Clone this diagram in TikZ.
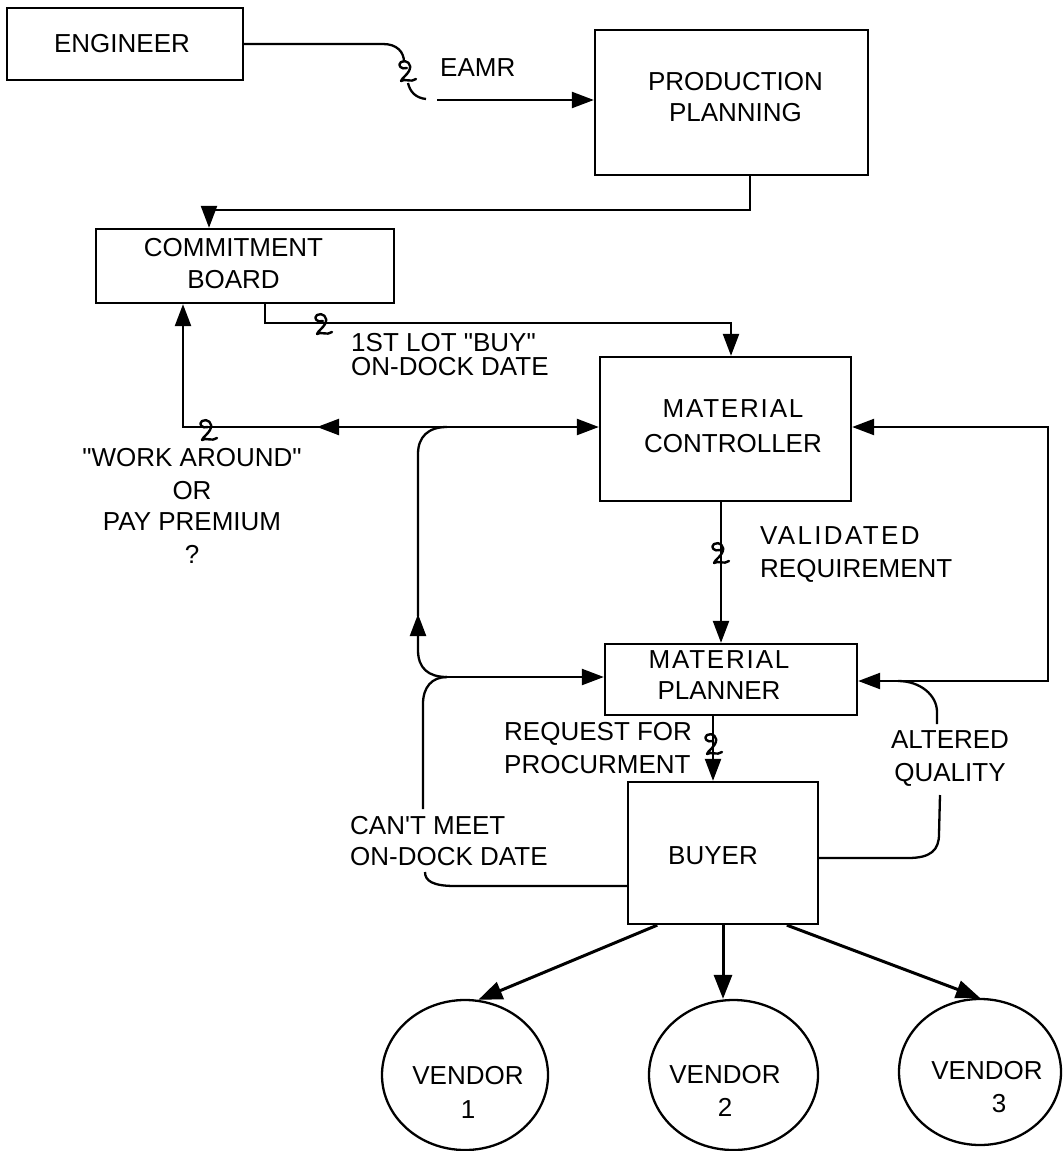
\documentclass[tikz,border=0pt]{standalone}
\usepackage{fontspec}
\setmainfont{Liberation Sans}
\usetikzlibrary{arrows.meta,calc,shapes.geometric}
\begin{document}
\begin{tikzpicture}[x=1pt,y=-1pt,
  every node/.style={font=\fontsize{26}{32}\selectfont},
  box/.style={draw,line width=2.3pt,rectangle,inner sep=0pt},
  vend/.style={draw,line width=2.3pt,ellipse,inner sep=0pt},
  txt/.style={inner sep=0pt,align=center},
  txtl/.style={inner sep=0pt,align=left,anchor=west},
  flow/.style={line width=2.3pt},
  arr/.style={flow,-{Triangle[length=22pt,width=16pt]}},
  varr/.style={line width=3pt,-{Triangle[length=24pt,width=18pt]}},
  curl/.pic={\draw[line width=2.4pt,line cap=round,line join=round]
      (0,-4) .. controls (-6,-2) and (-10,-7) .. (-6,-10)
      .. controls (-1,-13) and (6,-8) .. (2,-1)
      .. controls (0,3) and (-5,6) .. (-6,9)
      .. controls (-2,6) and (4,11) .. (9,7);}
]
\useasboundingbox (0,0) rectangle (1063,1151);

% boxes
\node[box,minimum width=236pt,minimum height=72pt] (eng) at (125,44) {};
\node[box,minimum width=273pt,minimum height=145pt] (pp) at (731.5,102.5) {};
\node[box,minimum width=298pt,minimum height=74pt] (cb) at (245,266) {};
\node[box,minimum width=251pt,minimum height=144pt] (mc) at (725.5,429) {};
\node[box,minimum width=252pt,minimum height=71pt] (mp) at (731,679.5) {};
\node[box,minimum width=190pt,minimum height=142pt] (buyer) at (723,853) {};
\node[vend,minimum width=166pt,minimum height=150pt] (v1) at (465,1075) {};
\node[vend,minimum width=169pt,minimum height=150pt] (v2) at (733.5,1075) {};
\node[vend,minimum width=162pt,minimum height=146pt] (v3) at (980,1072) {};

% box texts
\node[txt] (engT) at (122,44) {ENGINEER};
\node[txt] (ppT) at (735.5,97.5) {PRODUCTION\\[-1pt]PLANNING};
\node[txt] (cbT) at (233.5,264) {COMMITMENT\\BOARD};
\node[txt] (mcT) at (733,426.5) {{\addfontfeature{LetterSpace=7}MATERIAL}\\[3pt]CONTROLLER};
\node[txt] (mpT) at (719,675.5) {{\addfontfeature{LetterSpace=7}MATERIAL}\\[-1pt]PLANNER};
\node[txt] (buyT) at (713,856) {BUYER};
\node[txt] (v1T) at (468,1092) {VENDOR\\[2pt]1};
\node[txt] (v2T) at (725,1090.5) {VENDOR\\[1pt]2};
\node[txt] (v3T) at (987,1087.5) {VENDOR\\[1pt]\hspace*{24pt}3};

% flow labels
\node[txtl] (eamrT) at (440,68) {EAMR};
\node[txtl] (lotT) at (351,355) {1ST LOT \textquotedbl BUY\textquotedbl\\[-8pt]ON-DOCK DATE};
\node[txt] (waT) at (192,505.5) {\textquotedbl WORK AROUND\textquotedbl\\[1pt]OR\\[-1pt]PAY PREMIUM\\[1pt]?};
\node[txtl] (valT) at (760,554.5) {{\addfontfeature{LetterSpace=9}VALIDATED}\\[1pt]REQUIREMENT};
\node[txtl] (reqT) at (504,748.5) {REQUEST FOR\\[1pt]PROCURMENT};
\node[txt] (altT) at (950,758.5) {ALTERED\\[1pt]QUALITY};
\node[txtl] (cantT) at (350,841.5) {CAN\textquotesingle T MEET\\[-1pt]ON-DOCK DATE};

% engineer -> production planning
\draw[flow] (eng.east) -- (383,44) .. controls (397,44) and (404,52) .. (404,62);
\pic at (407,72) {curl};
\draw[flow] (408,83) .. controls (410,92) and (416,98) .. (426,99);
\draw[arr] (437,100) -- (pp.west |- 0,100);

% production planning -> commitment board
\draw[arr] (pp.south -| 750,0) |- (209,210) -- (cb.north -| 209,0);

% commitment board -> material controller
\draw[arr] (cb.south -| 265,0) |- (731,323) -- (mc.north -| 731,0);
\pic at (323,325) {curl};

% material controller -> material planner
\draw[arr] (mc.south -| 721,0) -- (mp.north -| 721,0);
\pic at (720,554) {curl};

% material planner -> buyer
\draw[arr] (mp.south -| 713,0) -- (buyer.north -| 713,0);
\pic at (713,745) {curl};

% can't meet on-dock date: buyer back up the left side
\draw[flow] (buyer.west |- 0,886) -- (455,886) .. controls (433,886) and (425,881) .. (425,872);
\draw[flow] (423,809) -- (423,704) .. controls (423,687) and (432,677) .. (447,677);
\draw[arr] (447,677) -- (mp.west |- 0,677);
\draw[arr] (447,677) .. controls (428,677) and (418,668) .. (418,650) -- (418,614);
\draw[flow] (418,616) -- (418,454) .. controls (418,437) and (428,427) .. (447,427);
\draw[arr] (447,427) -- (mc.west |- 0,427);
\draw[arr] (447,427) -- (317,427);
\draw[arr] (319,427) -- (183,427) -- (cb.south -| 183,0);
\pic at (208,431) {curl};

% altered quality: buyer back up the right side
\draw[flow] (buyer.east |- 0,858) -- (908,858) .. controls (931,858) and (939,850) .. (939,834) -- (940,795);
\draw[flow] (937,724) -- (937,712) .. controls (937,695) and (920,681) .. (898,681);
\draw[arr] (898,681) -- (mp.east |- 0,681);
\draw[arr] (898,681) -- (1048,681) -- (1048,427) -- (mc.east |- 0,427);

% buyer -> vendors
\draw[varr] ($(buyer.south west)!0.158!(buyer.south east)$) -- (v1.80);
\draw[varr] (buyer.south) -- (buyer.south |- v2.north);
\draw[varr] ($(buyer.south west)!0.832!(buyer.south east)$) -- (v3.north);
\end{tikzpicture}
\end{document}
